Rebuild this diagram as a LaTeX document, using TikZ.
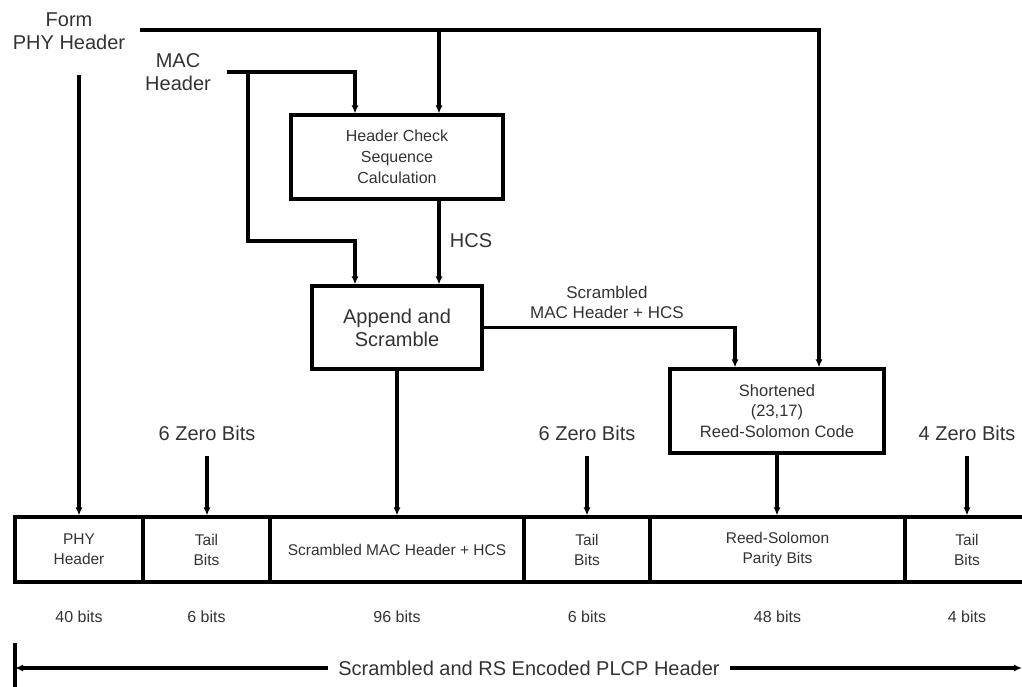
\documentclass[tikz,border=0pt]{standalone}
\usepackage{fontspec}
\setmainfont{Liberation Sans}
\usetikzlibrary{arrows.meta}

\tikzset{
  wire/.style={line width=3.1pt},
  feed/.style={wire, -{Latex[length=8pt,width=7pt]}},
  procbox/.style={draw, line width=3.1pt, align=center, text=black!80, inner sep=0pt,
    font=\fontsize{16}{21}\selectfont},
  cell/.style={draw, line width=3.1pt, align=center, text=black!80, inner sep=0pt,
    minimum height=65pt, font=\fontsize{15.5}{20}\selectfont},
  biglbl/.style={align=center, text=black!80, font=\fontsize{20}{23.5}\selectfont},
  smalllbl/.style={align=center, text=black!80, font=\fontsize{16}{20}\selectfont},
}

\begin{document}
\begin{tikzpicture}[x=1pt, y=-1pt]
  \useasboundingbox (0,0) rectangle (1022,687);

  % Inputs
  \node[biglbl] (phyin) at (69,31) {Form\\PHY Header};
  \node[biglbl] (macin) at (178,72) {MAC\\Header};

  % Processing boxes
  \node[procbox, minimum width=212pt, minimum height=84pt] (hcsbox) at (397,157)
    {Header Check\\Sequence\\Calculation};
  \node[procbox, minimum width=170pt, minimum height=83pt,
    font=\fontsize{20}{23}\selectfont] (appbox) at (397,327.5) {Append and\\Scramble};
  \node[procbox, minimum width=214pt, minimum height=84pt,
    font=\fontsize{16.5}{20.5}\selectfont] (rsbox) at (777,411)
    {Shortened\\(23,17)\\Reed-Solomon Code};

  % Header fields
  \node[cell, minimum width=128pt] (c1) at (79,549.5) {PHY\\Header};
  \node[cell, minimum width=127pt] (c2) at (206.5,549.5) {Tail\\Bits};
  \node[cell, minimum width=254pt] (c3) at (397,549.5) {Scrambled MAC Header + HCS};
  \node[cell, minimum width=126pt] (c4) at (587,549.5) {Tail\\Bits};
  \node[cell, minimum width=255pt] (c5) at (777.5,549.5) {Reed-Solomon\\Parity Bits};
  \node[cell, minimum width=124pt] (c6) at (967,549.5) {Tail\\Bits};

  % Field sizes
  \node[smalllbl] (n1) at (79,617) {40 bits};
  \node[smalllbl] (n2) at (206.5,617) {6 bits};
  \node[smalllbl] (n3) at (397,617) {96 bits};
  \node[smalllbl] (n4) at (587,617) {6 bits};
  \node[smalllbl] (n5) at (777.5,617) {48 bits};
  \node[smalllbl] (n6) at (967,617) {4 bits};

  % Zero bit labels
  \node[biglbl] (z1) at (207,433) {6 Zero Bits};
  \node[biglbl] (z2) at (587,433) {6 Zero Bits};
  \node[biglbl] (z3) at (967,433) {4 Zero Bits};

  \node[biglbl] (hcslbl) at (471,241) {HCS};
  \node[smalllbl, font=\fontsize{17}{20}\selectfont] (scrlbl) at (607,302)
    {Scrambled\\MAC Header + HCS};

  % Tap points
  \coordinate (phyline) at (140,30);
  \coordinate (phydrop) at (79,75);
  \coordinate (macline) at (227,72);
  \coordinate (macdrop) at (248,72);
  \coordinate (macturn) at (248,241);
  \coordinate (hcsinL) at ([xshift=-42pt]hcsbox.north);
  \coordinate (hcsinR) at ([xshift=42pt]hcsbox.north);
  \coordinate (appinL) at ([xshift=-42pt]appbox.north);
  \coordinate (appinR) at ([xshift=42pt]appbox.north);
  \coordinate (rsinL) at ([xshift=-42pt]rsbox.north);
  \coordinate (rsinR) at ([xshift=42pt]rsbox.north);

  % Connectors
  \draw[feed] (phyline) -| (rsinR);
  \draw[feed] (hcsinR |- phyline) -- (hcsinR);
  \draw[feed] (phydrop) -- (c1.north);
  \draw[feed] (macline) -| (hcsinL);
  \draw[feed] (macdrop) -- (macturn) -| (appinL);
  \draw[feed] (hcsinR |- hcsbox.south) -- (appinR);
  \draw[feed] (appbox.east) -| (rsinL);
  \draw[feed] (appbox.south) -- (c3.north);
  \draw[feed] (rsbox.south) -- (rsbox.south |- c5.north);
  \draw[feed, shorten <=12pt] (z1.south) -- (z1.south |- c2.north);
  \draw[feed, shorten <=12pt] (z2.south) -- (z2.south |- c4.north);
  \draw[feed, shorten <=12pt] (z3.south) -- (z3.south |- c6.north);

  % Span of the whole header
  \node[biglbl, inner xsep=10pt] (span) at (529,668) {Scrambled and RS Encoded PLCP Header};
  \coordinate (tickT) at (15,643);
  \coordinate (tickB) at (15,690);
  \coordinate (spanL) at (15,668);
  \coordinate (spanR) at (1022,668);
  \draw[wire] (tickT) -- (tickB);
  \draw[feed] (span.west) -- (spanL);
  \draw[feed] (span.east) -- (spanR);
\end{tikzpicture}
\end{document}
